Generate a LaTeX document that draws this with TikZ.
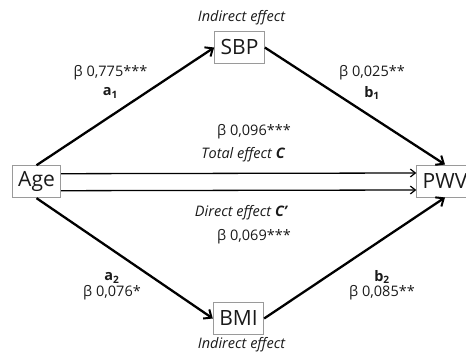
\documentclass[tikz,border=0pt]{standalone}
\usepackage{fontspec}
\setmainfont{Open Sans}
\usetikzlibrary{arrows.meta, positioning, calc}
\definecolor{BoxLine}{HTML}{9A9A9A}
\definecolor{TextDark}{HTML}{1A1A1A}

\begin{document}
\begin{tikzpicture}[
        x=1pt, y=-1pt,
        var/.style={rectangle, draw=BoxLine, fill=white, line width=0.9pt, minimum height=32pt, inner xsep=6pt, inner ysep=2pt, font=\fontsize{21}{24}\selectfont, text=TextDark},
        lbl/.style={font=\fontsize{14.5}{17}\selectfont, text=TextDark, inner sep=1pt},
        eff/.style={lbl, font=\fontsize{14.5}{17}\selectfont\itshape},
        path/.style={-{Straight Barb[length=6.5pt, width=11pt, line width=2pt]}, line width=2.3pt, black},
        tot/.style={-{Straight Barb[length=5pt, width=8pt, line width=1.2pt]}, line width=1.3pt, black}
      ]
        \useasboundingbox (0,0) rectangle (466,358);
        % variables
        \node[var] (age) at (36.5,181.7) {Age};
        \node[var] (sbp) at (239.5,47.5) {SBP};
        \node[var] (bmi) at (238.5,318.5) {BMI};
        \node[var, minimum width=54pt] (pwv) at (445,181) {PWV};

        % paths
        \draw[path] (age.north) -- (sbp.west);
        \draw[path] (sbp.east) -- (pwv.north);
        \draw[path] (age.south) -- (bmi.west);
        \draw[path] (bmi.east) -- (pwv.south);
        \draw[tot] ([yshift=8pt]age.east) -- ([yshift=8pt]pwv.west);
        \draw[tot] ([yshift=-9pt]age.east) -- ([yshift=-9pt]pwv.west);

        % labels
        \node[eff] (ind1) at (241.5,18) {Indirect effect};
        \node[eff] (ind2) at (241.5,345) {Indirect effect};
        \node[lbl] (a1v) at (110.5,73) {β 0,775***};
        \node[lbl] (a1) at (110.5,93) {\textbf{a\textsubscript{1}}};
        \node[lbl] (b1v) at (372,73) {β 0,025**};
        \node[lbl] (b1) at (372,93) {\textbf{b\textsubscript{1}}};
        \node[lbl] (cv) at (254,132) {β 0,096***};
        \node[eff] (c) at (243,155) {Total effect \textbf{C}};
        \node[eff] (cp) at (241,213) {Direct effect \textbf{C’}};
        \node[lbl] (cpv) at (254,237) {β 0,069***};
        \node[lbl] (a2) at (112,278) {\textbf{a\textsubscript{2}}};
        \node[lbl] (a2v) at (112,293) {β 0,076*};
        \node[lbl] (b2) at (382,277) {\textbf{b\textsubscript{2}}};
        \node[lbl] (b2v) at (382,293) {β 0,085**};
      \end{tikzpicture}
\end{document}
